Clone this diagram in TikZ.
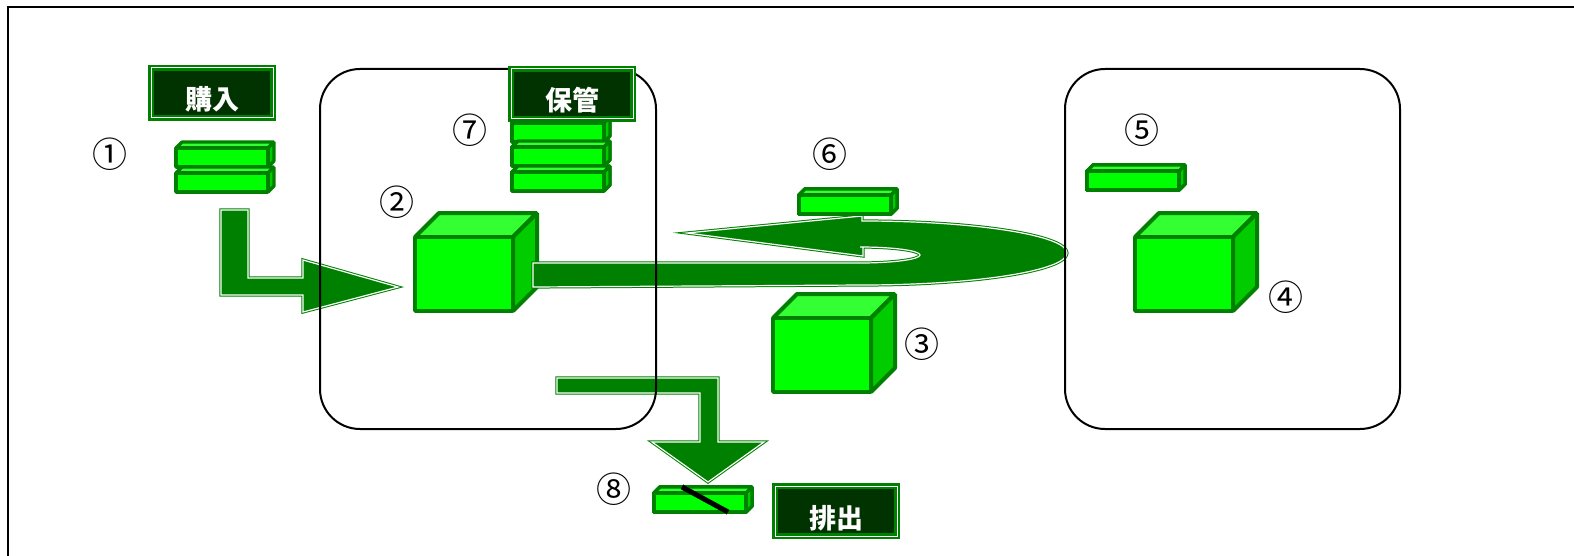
\documentclass[tikz,border=0pt]{standalone}
\usepackage{fontspec}
\newfontfamily\jpfont{Noto Sans CJK JP}

\definecolor{arrowgreen}{HTML}{008000}
\definecolor{edgegreen}{HTML}{008000}
\definecolor{frontgreen}{HTML}{00FF00}
\definecolor{topgreen}{HTML}{33FF33}
\definecolor{sidegreen}{HTML}{00CC00}
\definecolor{tagfill}{HTML}{003300}

\tikzset{
    boxedge/.style={draw=edgegreen, line width=2pt, line join=bevel},
    slabedge/.style={draw=edgegreen, line width=1.6pt, line join=bevel},
    bigarrow/.style={fill=arrowgreen, draw=arrowgreen, double=white,
        line width=0.5pt, double distance=0.6pt},
    area/.style={draw=black, line width=1pt, rounded corners=20pt},
    tagbox/.style={fill=tagfill, draw=arrowgreen, double=white,
        line width=1.2pt, double distance=0.5pt, inner sep=0pt,
        minimum width=61pt, minimum height=25pt,
        text height=17pt, text depth=0pt, text=white,
        font=\jpfont\bfseries\fontsize{13.5}{14}\selectfont},
    num/.style={inner sep=0pt, font=\jpfont\fontsize{17.5}{18}\selectfont}
}

% flat part, front face top-left at (#1,#2)
\newcommand{\greenslab}[2]{%
    \begin{scope}[shift={(#1,#2)}]
        \filldraw[slabedge, fill=topgreen] (0,0) -- (6,-6) -- (98,-6) -- (92,0) -- cycle;
        \filldraw[slabedge, fill=sidegreen] (92,0) -- (98,-6) -- (98,13) -- (92,19) -- cycle;
        \filldraw[slabedge, fill=frontgreen] (0,0) rectangle (92,19);
    \end{scope}}

% cube, front face top-left at (#1,#2)
\newcommand{\greencube}[2]{%
    \begin{scope}[shift={(#1,#2)}]
        \filldraw[boxedge, fill=topgreen] (0,0) -- (24,-24) -- (122,-24) -- (98,0) -- cycle;
        \filldraw[boxedge, fill=sidegreen] (98,0) -- (122,-24) -- (122,50) -- (98,74) -- cycle;
        \filldraw[boxedge, fill=frontgreen] (0,0) rectangle (98,74);
    \end{scope}}

\begin{document}
\begin{tikzpicture}[x=0.5pt, y=-0.5pt]
        \useasboundingbox (0,0) rectangle (1574,556);
        \draw[line width=1pt] (8,7) rectangle (1590,570);

        \greencube{415}{237}
        \greencube{773}{318}
        \greencube{1135}{237}

        % incoming arrow
        \draw[bigarrow] (221,210) -- (248,210) -- (248,278) -- (303,278) -- (303,260)
            -- (398,287) -- (303,312) -- (303,295) -- (221,295) -- cycle;

        % arrow down to disposal
        \draw[bigarrow] (557,378) -- (718,378) -- (718,442) -- (764,442) -- (708,482)
            -- (652,442) -- (700,442) -- (700,393) -- (557,393) -- cycle;

        % loop out and back
        \draw[bigarrow] (533,263) -- (860,263)
            arc[start angle=90, end angle=-90, x radius=60, y radius=8]
            -- (863,247) -- (863,256) -- (687,233) -- (862,216) -- (862,221)
            arc[start angle=-90, end angle=90, x radius=205, y radius=32]
            -- (533,287) -- cycle;

        \draw[area] (320,69) rectangle (656,429);
        \draw[area] (1065,69) rectangle (1400,429);

        \foreach \y in {148, 173}
            \greenslab{176}{\y}
        \foreach \y in {123, 147, 172}
            \greenslab{512}{\y}
        \greenslab{799}{195}
        \greenslab{1087}{171}
        \greenslab{654}{493}
        \draw[line width=2.5pt] (682,487) -- (728,512);

        \node[tagbox] (buy) at (212,93) {購入};
        \node[tagbox] (keep) at (572,94) {保管};
        \node[tagbox] (out) at (836,511) {排出};

        \node[num] (n1) at (110,154) {①};
        \node[num] (n2) at (397,202) {②};
        \node[num] (n3) at (922,344) {③};
        \node[num] (n4) at (1286,297) {④};
        \node[num] (n5) at (1142,130) {⑤};
        \node[num] (n6) at (830,154) {⑥};
        \node[num] (n7) at (470,130) {⑦};
        \node[num] (n8) at (614,489) {⑧};
    \end{tikzpicture}
\end{document}
